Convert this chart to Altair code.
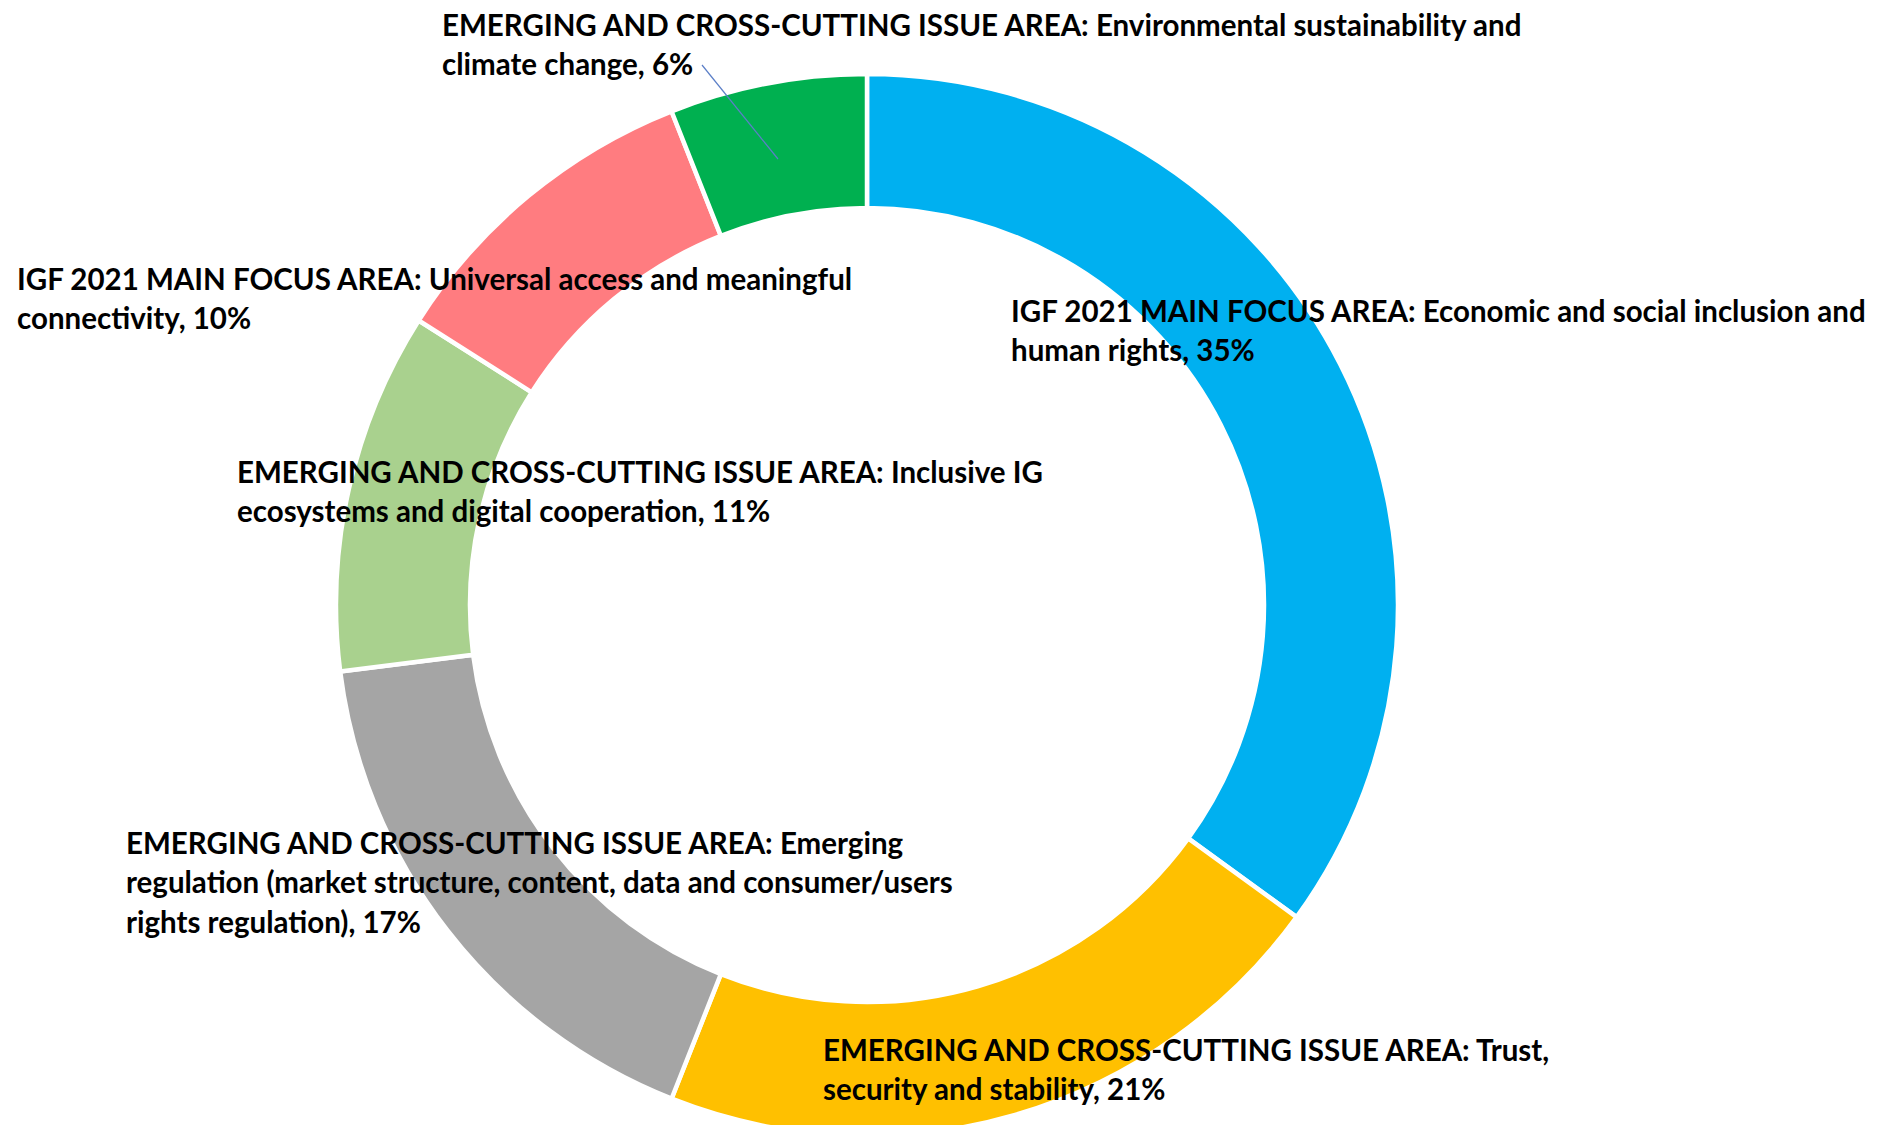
import altair as alt
import pandas as pd

# ---- data ----
categories = [
    "IGF 2021 MAIN FOCUS AREA: Economic and social inclusion and human rights",
    "EMERGING AND CROSS-CUTTING ISSUE AREA: Trust, security and stability",
    "EMERGING AND CROSS-CUTTING ISSUE AREA: Emerging regulation (market structure, content, data and consumer/users rights regulation)",
    "EMERGING AND CROSS-CUTTING ISSUE AREA: Inclusive IG ecosystems and digital cooperation",
    "IGF 2021 MAIN FOCUS AREA: Universal access and meaningful connectivity",
    "EMERGING AND CROSS-CUTTING ISSUE AREA: Environmental sustainability and climate change",
]
values = [35, 21, 17, 11, 10, 6]
colors = ["#00B0F0", "#FFC000", "#A5A5A5", "#A9D18E", "#FF7C80", "#00B050"]

# label text split into lines as in the reference
label_lines = [
    ["IGF 2021 MAIN FOCUS AREA: Economic and social inclusion and", "human rights, 35%"],
    ["EMERGING AND CROSS-CUTTING ISSUE AREA: Trust,", "security and stability, 21%"],
    ["EMERGING AND CROSS-CUTTING ISSUE AREA: Emerging",
     "regulation (market structure, content, data and consumer/users",
     "rights regulation), 17%"],
    ["EMERGING AND CROSS-CUTTING ISSUE AREA: Inclusive IG", "ecosystems and digital cooperation, 11%"],
    ["IGF 2021 MAIN FOCUS AREA: Universal access and meaningful", "connectivity, 10%"],
    ["EMERGING AND CROSS-CUTTING ISSUE AREA: Environmental sustainability and", "climate change, 6%"],
]

# ---- layout (pixels, chart coordinates) ----
W, H = 1867, 1117
CX, CY = 859, 597
R_OUT, R_IN = 531, 397
FONT = "Lato"
FS = 29.5
LINE_H = 39.6
label_anchor = [  # left x, first-line centre y
    (1003, 303),
    (815, 1042),
    (118, 835),
    (229, 464),
    (9, 271),
    (434, 17),
]
leader = [(694, 57), (770, 151)]

slices = pd.DataFrame({
    "category": categories,
    "value": values,
    "idx": list(range(len(values))),
})

rows = []
for i, lines in enumerate(label_lines):
    x0, y0 = label_anchor[i]
    for j, t in enumerate(lines):
        rows.append({"text": t, "px": x0, "py": y0 + j * LINE_H + 10.5})
labels = pd.DataFrame(rows)

leader_df = pd.DataFrame({"px": [leader[0][0]], "py": [leader[0][1]],
                          "px2": [leader[1][0]], "py2": [leader[1][1]]})

donut = alt.Chart(slices).mark_arc(
    outerRadius=R_OUT, innerRadius=R_IN, stroke="white", strokeWidth=4.5
).encode(
    theta=alt.Theta("value:Q", stack=True),
    order=alt.Order("idx:Q"),
    color=alt.Color("category:N", scale=alt.Scale(domain=categories, range=colors), legend=None),
    x=alt.value(CX),
    y=alt.value(CY),
)

line = alt.Chart(leader_df).mark_rule(color="#5B7FC7", strokeWidth=1.2).encode(
    x=alt.X("px:Q", scale=None), y=alt.Y("py:Q", scale=None),
    x2="px2:Q", y2="py2:Q",
)

text = alt.Chart(labels).mark_text(
    align="left", baseline="alphabetic", font=FONT, fontSize=FS, fontWeight="bold", color="#000000"
).encode(
    x=alt.X("px:Q", scale=None), y=alt.Y("py:Q", scale=None), text="text:N"
)

chart = alt.layer(donut, line, text).properties(
    width=W, height=H, autosize=alt.AutoSizeParams(type="none"), padding=0
).configure_view(stroke=None)

chart.save("out.html", embed_options={"renderer": "svg", "actions": False})
